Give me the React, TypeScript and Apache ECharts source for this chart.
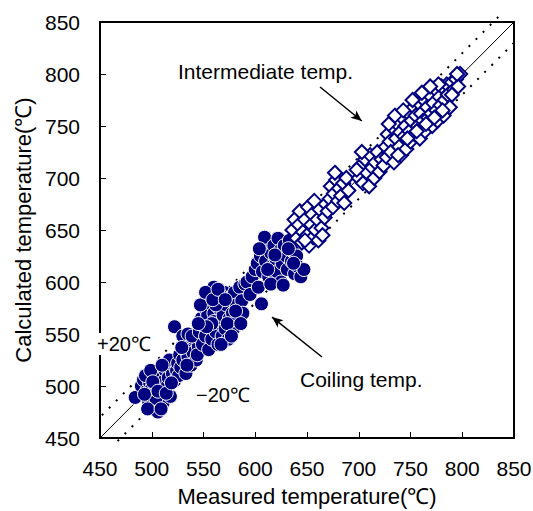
import React, { useEffect, useRef } from "react";
import * as echarts from "echarts";

// Coiling temperature (measured, calculated)
const coilingPoints: [number, number][] = [
  [484, 489], [490, 500], [492, 506], [495, 495], [497, 485], [498, 503], [500, 498], [500, 510],
  [502, 492], [503, 480], [505, 500], [506, 475], [507, 508], [508, 490], [510, 497], [511, 484],
  [512, 505], [494, 510], [499, 515], [504, 488], [513, 515], [515, 500], [516, 508], [518, 490],
  [520, 512], [521, 520], [517, 525], [522, 505], [524, 515], [526, 510], [510, 520], [496, 478],
  [509, 478], [493, 492], [501, 504], [506, 495], [514, 493], [519, 503],
  [525, 522], [527, 530], [528, 518], [530, 525], [532, 535], [533, 512], [535, 528], [536, 540],
  [538, 520], [540, 532], [541, 545], [543, 525], [545, 538], [522, 557], [530, 548], [535, 550],
  [529, 537], [534, 520], [539, 548], [544, 530],
  [546, 552], [548, 565], [549, 540], [550, 558], [551, 575], [552, 548], [554, 568], [555, 535],
  [556, 580], [557, 556], [558, 545], [560, 570], [560, 562], [562, 552], [563, 585], [564, 540],
  [565, 575], [566, 560], [568, 548], [569, 568], [570, 590], [571, 555], [572, 578], [574, 545],
  [575, 565], [576, 585], [578, 570], [579, 555], [580, 590], [582, 578], [583, 565], [585, 595],
  [587, 582], [588, 570], [590, 598], [554, 587], [560, 595], [566, 588], [547, 578], [552, 590],
  [558, 560], [562, 578], [567, 540], [573, 560], [577, 548], [581, 572], [586, 560], [553, 557],
  [559, 583], [564, 593], [545, 560], [571, 583],
  [592, 600], [595, 588], [597, 605], [600, 612], [606, 579], [603, 595],
  [602, 618], [605, 625], [607, 610], [608, 632], [610, 620], [609, 643], [613, 605], [615, 628],
  [616, 615], [618, 635], [620, 622], [621, 610], [622, 642], [624, 630], [625, 600], [626, 618],
  [628, 635], [630, 625], [631, 612], [633, 640], [635, 620], [636, 630], [638, 608], [640, 625],
  [641, 615], [644, 605], [615, 598], [627, 597], [647, 612], [604, 632], [612, 612], [619, 626],
  [632, 632], [637, 618],
];

// Intermediate temperature (measured, calculated)
const intermediatePoints: [number, number][] = [
  [636, 650], [638, 660], [640, 642], [642, 655], [643, 668], [645, 638], [646, 648], [648, 660],
  [650, 645], [651, 672], [652, 635], [654, 655], [655, 665], [656, 643], [658, 650], [660, 660],
  [661, 640], [662, 670], [664, 652], [665, 645], [667, 662], [668, 675], [648, 640], [657, 678],
  [670, 668], [672, 680], [673, 692], [675, 672], [676, 685], [678, 698], [680, 678], [681, 690],
  [683, 683], [685, 695], [686, 676], [688, 700], [677, 705], [690, 688],
  [700, 700], [702, 712], [704, 695], [706, 718], [708, 705], [710, 692], [711, 722], [713, 710],
  [715, 700], [716, 715], [718, 725], [720, 706], [722, 718], [724, 712], [703, 725], [698, 708],
  [726, 730], [727, 720], [728, 742], [730, 735], [731, 725], [733, 748], [734, 715], [736, 738],
  [737, 752], [739, 730], [740, 744], [741, 722], [742, 758], [744, 740], [745, 750], [746, 728],
  [748, 762], [749, 745], [750, 735], [751, 755], [753, 768], [754, 742], [755, 760], [757, 750],
  [758, 772], [759, 738], [760, 762], [762, 755], [763, 775], [764, 745], [766, 768], [767, 758],
  [768, 780], [770, 762], [771, 750], [772, 772], [774, 785], [775, 765], [776, 755], [778, 778],
  [779, 770], [780, 788], [782, 760], [783, 775], [785, 790], [786, 780], [788, 768], [790, 792],
  [792, 785], [794, 795], [796, 788], [798, 800], [795, 800], [790, 780], [777, 790],
  [729, 752], [735, 760], [743, 765], [752, 775], [738, 722], [747, 738], [756, 745], [765, 752],
  [773, 758], [781, 765], [769, 788], [761, 782],
];

const identityLine: [number, number][] = [[445, 445], [856, 856]];
const upperLine: [number, number][] = [[445, 465], [835, 855]];
const lowerLine: [number, number][] = [[467, 447], [855, 835]];

const intermediateArrow: [number, number][] = [[662.6, 787.5], [703, 754.8]];
const coilingArrow: [number, number][] = [[664.5, 527.9], [616.2, 566.3]];

const NAVY = "#000080";
const FONT = "'Liberation Sans', Arial, sans-serif";

export default function App() {
  const ref = useRef<HTMLDivElement>(null);
  useEffect(() => {
    if (!ref.current) return;
    const chart = echarts.init(ref.current, null, { renderer: "svg" });
    const axisCommon = {
      type: "value" as const,
      min: 450,
      max: 850,
      interval: 50,
      splitLine: { show: false },
      axisLine: { show: true, lineStyle: { color: "#000", width: 2 } },
      axisTick: { show: true, inside: true, length: 6, lineStyle: { color: "#000", width: 1 } },
      axisLabel: { color: "#000", fontSize: 21, fontFamily: FONT, margin: 20 },
      nameLocation: "middle" as const,
      nameTextStyle: { color: "#000", fontSize: 22, fontFamily: FONT },
    };
    chart.setOption({
      animation: false,
      backgroundColor: "#fff",
      grid: {
        left: 100,
        right: 19,
        top: 22,
        bottom: 73,
        show: true,
        borderColor: "#000",
        borderWidth: 2,
        outerBoundsMode: "none",
        containLabel: false,
      },
      xAxis: { ...axisCommon, name: "Measured temperature(℃)", nameGap: 47 },
      yAxis: { ...axisCommon, name: "Calculated temperature(℃)", nameGap: 62 },
      series: [
        {
          type: "line",
          data: identityLine,
          clip: false,
          symbol: "none",
          lineStyle: { color: "#000", width: 1 },
          z: 1,
        },
        {
          type: "line",
          data: upperLine,
          clip: false,
          symbol: "none",
          lineStyle: { color: "#000", width: 2, type: [2, 8] },
          z: 1,
        },
        {
          type: "line",
          data: lowerLine,
          clip: false,
          symbol: "none",
          lineStyle: { color: "#000", width: 2, type: [2, 8] },
          z: 1,
        },
        {
          type: "scatter",
          name: "Coiling temp.",
          data: coilingPoints,
          symbol: "circle",
          symbolSize: 14,
          itemStyle: { color: NAVY, borderColor: "#fff", borderWidth: 1, opacity: 1 },
          z: 3,
        },
        {
          type: "scatter",
          name: "Intermediate temp.",
          data: intermediatePoints,
          symbol: "diamond",
          symbolSize: 14,
          itemStyle: { color: "#fff", borderColor: NAVY, borderWidth: 2, opacity: 1 },
          z: 4,
        },
        {
          type: "line",
          data: [],
          markLine: {
            silent: true,
            symbol: ["none", "arrow"],
            symbolSize: [7, 11],
            label: { show: false },
            lineStyle: { color: "#000", width: 1.5, type: "solid" },
            data: [
              [{ coord: intermediateArrow[0] }, { coord: intermediateArrow[1] }],
              [{ coord: coilingArrow[0] }, { coord: coilingArrow[1] }],
            ],
          },
          z: 5,
        },
      ],
      graphic: [
        {
          type: "text",
          left: 178,
          top: 61,
          style: { text: "Intermediate temp.", fill: "#000", fontSize: 21, fontFamily: FONT },
          z: 10,
        },
        {
          type: "text",
          left: 300,
          top: 369,
          style: { text: "Coiling temp.", fill: "#000", fontSize: 21, fontFamily: FONT },
          z: 10,
        },
        {
          type: "text",
          left: 96,
          top: 333,
          style: {
            text: "+20℃",
            fill: "#000",
            fontSize: 20,
            fontFamily: FONT,
            backgroundColor: "#fff",
            padding: [1, 1],
          },
          z: 10,
        },
        {
          type: "text",
          left: 196,
          top: 385,
          style: { text: "−20℃", fill: "#000", fontSize: 20, fontFamily: FONT },
          z: 10,
        },
      ],
    });
    return () => chart.dispose();
  }, []);
  return (
    <div
      ref={ref}
      style={{ position: "fixed", left: 0, top: 0, width: 533, height: 511, background: "#fff" }}
    />
  );
}
